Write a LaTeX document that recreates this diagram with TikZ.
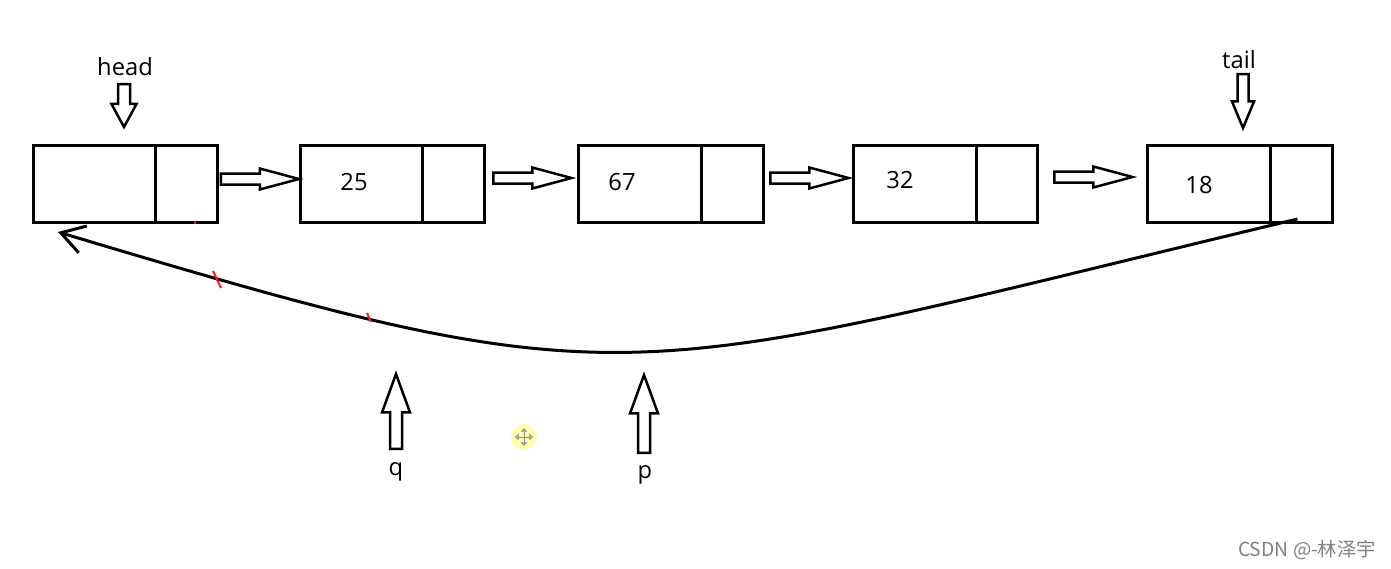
\documentclass[tikz,border=0pt]{standalone}
\usepackage{fontspec}
\setmainfont{Open Sans}
\newfontfamily\cjkfont{Noto Sans CJK SC}
\usetikzlibrary{shapes}
\usetikzlibrary{arrows.meta,positioning,calc}
\tikzset{data cell/.style={rectangle, draw, line width=0.06cm,
    inner sep=0pt, outer sep=0pt, minimum width=2.46cm, minimum height=1.56cm}}
\tikzset{next cell/.style={data cell, minimum width=1.24cm}}
\tikzset{hollow arrow/.style={single arrow, draw, line width=0.05cm, inner xsep=0pt,
    inner ysep=0.085cm, outer sep=0pt, minimum height=1.56cm, minimum width=0pt,
    single arrow head extend=0.1cm, single arrow tip angle=30}}
\tikzset{link arrow/.style={hollow arrow, anchor=tail}}
\tikzset{pointer arrow/.style={hollow arrow, rotate=#1, anchor=tip}}
\tikzset{value text/.style={font=\fontsize{13.5}{16}\selectfont}}
\tikzset{link edge/.style={line width=0.06cm, -{Straight Barb[length=0.46cm, width=0.56cm]}}}
\tikzset{mark stroke/.style={red!90!white, line width=0.04cm}}
\tikzset{watermark/.style={black!50, font=\cjkfont\fontsize{11}{13}\selectfont}}

\begin{document}
\begin{tikzpicture}[x=0.02cm, y=-0.02cm]
  \useasboundingbox (0,0) rectangle (1391,568);

  \node [data cell]              (n1)  at (  94.5, 184) {};
  \node [next cell, right=0pt of n1] (n1p) {};
  \node [data cell]              (n2)  at ( 361.5, 184) {};
  \node [next cell, right=0pt of n2] (n2p) {};
  \node [data cell]              (n3)  at ( 640,   184) {};
  \node [next cell, right=0pt of n3] (n3p) {};
  \node [data cell]              (n4)  at ( 914.5, 184) {};
  \node [next cell, right=0pt of n4] (n4p) {};
  \node [data cell]              (n5)  at (1209,   184) {};
  \node [next cell, right=0pt of n5] (n5p) {};

  \node [value text] (v2) at ( 354, 182) {25};
  \node [value text] (v3) at ( 622, 182) {67};
  \node [value text] (v4) at ( 900, 180) {32};
  \node [value text] (v5) at (1199, 185) {18};

  \node [link arrow] (a12) at ($(n1p.east) + ( 3,   -5)$) {};
  \node [link arrow] (a23) at ($(n2p.east) + ( 8.5, -6)$) {};
  \node [link arrow] (a34) at ($(n3p.east) + ( 7,   -6)$) {};
  \node [link arrow] (a45) at ($(n4p.east) + (16.5, -7)$) {};

  \node [pointer arrow=-90, minimum height=0.86cm, inner ysep=0.095cm,
         single arrow head extend=0.13cm, single arrow tip angle=57] (headptr) at ( 124, 127) {};
  \node [value text] (headlbl) at ( 125, 67) {head};
  \node [pointer arrow=-90, minimum height=1.08cm, inner ysep=0.085cm,
         single arrow head extend=0.11cm, single arrow tip angle=45] (tailptr) at (1243, 128) {};
  \node [value text] (taillbl) at (1239, 60) {tail};

  \node [pointer arrow=90, minimum height=1.5cm, inner ysep=0.095cm,
         single arrow head extend=0.16cm, single arrow tip angle=40] (qptr) at ( 396, 374) {};
  \node [value text] (qlbl) at ( 396, 472) {q};
  \node [pointer arrow=90, minimum height=1.56cm, inner ysep=0.095cm,
         single arrow head extend=0.16cm, single arrow tip angle=40] (pptr) at ( 644, 375) {};
  \node [value text] (plbl) at ( 645, 475) {p};

  \coordinate (tailend) at ($(n5p.south) + (-4,-4)$);
  \coordinate (headend) at ($(n1.south west) + (25,9)$);
  \draw [link edge] (tailend) .. controls +(-681,163) and +(580,174) .. (headend);

  \draw [mark stroke] (213,271) -- (221,288);
  \draw [mark stroke] (367,313) -- (371,322);
  \draw [mark stroke] (195,221) -- (195,224);

  \fill [yellow!70, opacity=0.45] (524,437) circle (0.26cm);
  \draw [black!45, line width=0.02cm, {Triangle[open,length=2pt,width=3.5pt]}-{Triangle[open,length=2pt,width=3.5pt]}]
    (515,437) -- (533,437);
  \draw [black!45, line width=0.02cm, {Triangle[open,length=2pt,width=3.5pt]}-{Triangle[open,length=2pt,width=3.5pt]}]
    (524,428) -- (524,446);

  \node [watermark] (mark) at (1307, 550) {CSDN @-林泽宇};
\end{tikzpicture}
\end{document}
